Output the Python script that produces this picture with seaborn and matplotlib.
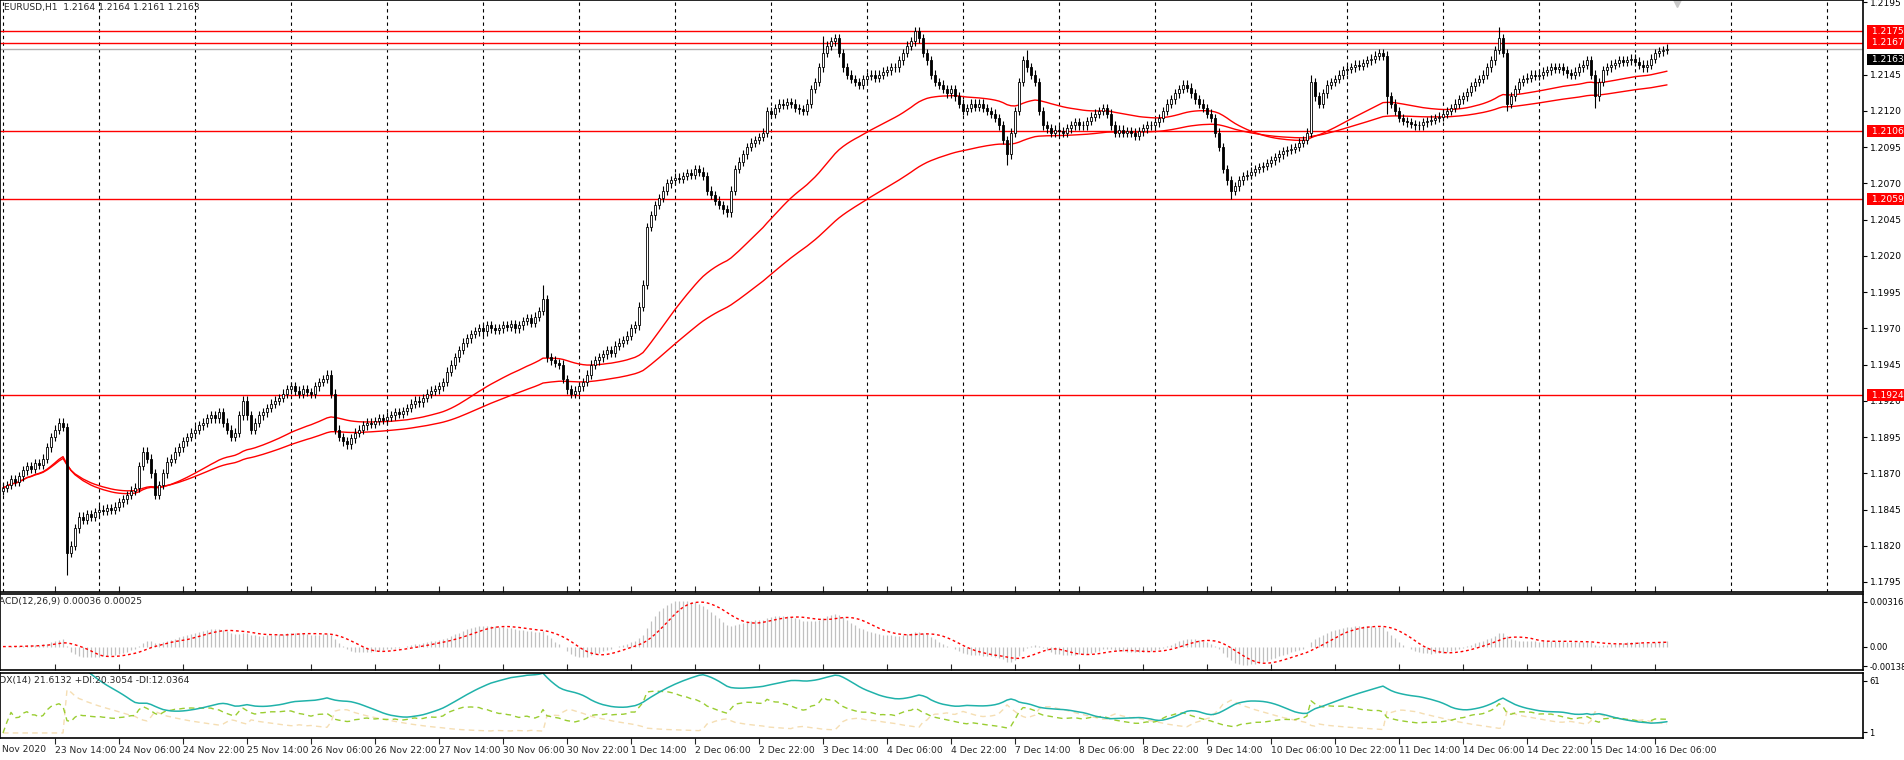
import numpy as np
import pandas as pd
import matplotlib
matplotlib.use("Agg")
import matplotlib.pyplot as plt
import seaborn as sns

# ---- data: hourly closes in pips above 1.1800 ----
closes_pips = [
 60,62,66,64,68,72,75,73,77,76,
 80,88,95,100,105,102,15,20,32,40,
 38,42,40,43,45,44,46,45,47,50,
 52,55,58,60,75,85,80,70,55,62,
 70,78,80,85,88,92,95,98,100,103,
 105,108,110,108,112,105,100,95,98,110,
 120,110,100,105,110,112,115,118,120,122,
 125,128,130,127,125,128,126,125,130,133,
 135,138,125,100,95,92,90,94,98,100,
 103,105,104,106,108,107,109,110,112,111,
 113,115,118,120,119,122,125,127,128,130,
 133,140,145,150,155,160,163,166,168,170,
 168,172,170,169,170,172,171,173,170,172,
 175,177,174,178,182,190,150,148,146,145,
 135,128,125,127,130,133,138,145,148,150,
 152,155,153,158,160,162,165,170,172,185,
 200,240,248,255,260,265,270,272,274,273,
 275,277,276,280,278,275,265,262,258,255,
 252,250,265,280,285,290,295,298,300,302,
 305,320,318,322,325,324,326,325,322,321,
 320,325,335,340,350,360,365,368,370,360,
 350,345,342,340,338,342,344,345,343,345,
 347,348,350,350,355,360,365,368,375,370,
 360,355,345,340,338,335,332,335,330,325,
 320,322,325,323,325,322,320,318,315,310,
 300,290,305,320,340,355,350,345,340,320,
 310,308,305,307,306,305,308,310,312,310,
 310,313,316,318,320,322,318,310,305,307,
 305,306,305,303,306,308,310,310,312,315,
 320,325,328,332,335,338,336,332,328,325,
 322,318,315,305,295,280,272,265,268,272,
 275,276,278,280,281,282,284,286,288,290,
 292,293,294,295,298,300,305,340,330,325,
 332,338,340,342,345,348,349,350,352,351,
 353,355,356,358,360,358,330,325,320,315,
 313,312,311,310,310,312,313,314,315,316,
 318,320,322,325,328,330,333,337,340,342,
 345,350,355,362,370,360,325,330,335,340,
 342,343,345,344,345,347,348,350,349,350,
 348,346,345,347,350,352,355,345,330,340,
 348,350,352,353,355,354,355,356,354,352,
 350,352,356,360,361,362,363]
first_open_pips = 58
wick_pips = 3
extreme_lows = {16: 0, 142: 122, 251: 283, 307: 259, 346: 318, 376: 320, 398: 322}
extreme_highs = {135: 200, 205: 372, 228: 376, 256: 362, 327: 345, 374: 378}

tick_labels = ["23 Nov 14:00","24 Nov 06:00","24 Nov 22:00","25 Nov 14:00","26 Nov 06:00",
 "26 Nov 22:00","27 Nov 14:00","30 Nov 06:00","30 Nov 22:00","1 Dec 14:00","2 Dec 06:00",
 "2 Dec 22:00","3 Dec 14:00","4 Dec 06:00","4 Dec 22:00","7 Dec 14:00","8 Dec 06:00",
 "8 Dec 22:00","9 Dec 14:00","10 Dec 06:00","10 Dec 22:00","11 Dec 14:00","14 Dec 06:00",
 "14 Dec 22:00","15 Dec 14:00","16 Dec 06:00"]
first_tick_bar = 13
bars_per_tick = 16
levels = [1.2175, 1.2167, 1.2106, 1.2059, 1.1924]
bid = 1.2163
price_ticks = [1.2195,1.2145,1.2120,1.2095,1.2070,1.2045,1.2020,1.1995,1.1970,1.1945,
               1.1920,1.1895,1.1870,1.1845,1.1820,1.1795]
title = "EURUSD,H1  1.2164 1.2164 1.2161 1.2163"

# ---- build OHLC ----
c = 1.18 + np.array(closes_pips) / 10000.0
o = np.concatenate([[1.18 + first_open_pips / 10000.0], c[:-1]])
h = np.maximum(o, c) + wick_pips / 10000.0
l = np.minimum(o, c) - wick_pips / 10000.0
for k, v in extreme_lows.items():
    l[k] = min(l[k], 1.18 + v / 10000.0)
for k, v in extreme_highs.items():
    h[k] = max(h[k], 1.18 + v / 10000.0)
n = len(c)
x = np.arange(n)
df = pd.DataFrame({"x": x, "o": o, "h": h, "l": l, "c": c})
cs = df["c"]
df["ma_fast"] = cs.ewm(span=50, adjust=True).mean()
df["ma_slow"] = cs.ewm(span=100, adjust=True).mean()
macd = cs.ewm(span=12, adjust=True).mean() - cs.ewm(span=26, adjust=True).mean()
df["macd"] = macd
df["signal"] = macd.rolling(9, min_periods=1).mean()
# ADX (Wilder smoothing)
prev_c = cs.shift(1).fillna(cs.iloc[0])
tr = np.maximum(df["h"] - df["l"], np.maximum((df["h"] - prev_c).abs(), (df["l"] - prev_c).abs()))
up = df["h"].diff().fillna(0)
dn = (-df["l"].diff()).fillna(0)
pdm = pd.Series(np.where((up > dn) & (up > 0), up, 0.0))
mdm = pd.Series(np.where((dn > up) & (dn > 0), dn, 0.0))
atr = tr.ewm(alpha=1/14, adjust=True).mean()
pdi = 100 * pdm.ewm(alpha=1/14, adjust=True).mean() / atr
mdi = 100 * mdm.ewm(alpha=1/14, adjust=True).mean() / atr
dx = 100 * (pdi - mdi).abs() / (pdi + mdi).replace(0, np.nan)
dx.iloc[:3] = np.nan
df["adx"] = dx.bfill().ewm(alpha=1/14, adjust=True).mean()
df["pdi"] = pdi
df["mdi"] = mdi

# ---- figure ----
sns.set_style("white")
plt.rcParams["font.family"] = ["DejaVu Sans"]
FS = 6.6
W, H = 1904, 760
fig = plt.figure(figsize=(W/100, H/100), dpi=100)
right = 1863
def box(top, bot):
    return [0, 1 - bot/H, right/W, (bot-top)/H]
axp = fig.add_axes(box(0, 592))
axm = fig.add_axes(box(594, 670))
axa = fig.add_axes(box(673, 738))
xl = (-0.75, (right - 3) / 4)
for ax in (axp, axm, axa):
    ax.set_xlim(*xl)
    for s in ax.spines.values():
        s.set_color("black"); s.set_linewidth(1.2)
    ax.yaxis.tick_right()
    ax.tick_params(axis="y", direction="out", length=3, width=0.8, labelsize=FS, pad=2, colors="black")
    ax.set_xticks([])
for ax in (axm, axa):
    ax.tick_params(axis="y", labelsize=6.0, pad=1.5)

# price panel
axp.set_ylim(1.17881, 1.21965)
for gx in np.arange(0, n + 60, 24):
    axp.axvline(gx, color="black", ls=(0, (3, 3)), lw=0.8, zorder=0)
sns.lineplot(data=df, x="x", y="ma_fast", ax=axp, color="red", lw=1, zorder=2)
sns.lineplot(data=df, x="x", y="ma_slow", ax=axp, color="red", lw=1, zorder=2)
axp.vlines(df["x"], df["l"], df["h"], color="black", lw=0.8, zorder=3)
bull = df["c"] >= df["o"]
body = (df["c"] - df["o"]).abs().clip(lower=0.000015)
base = np.minimum(df["o"], df["c"])
axp.bar(df["x"][bull], body[bull], bottom=base[bull], width=0.7, color="white",
        edgecolor="black", lw=0.6, zorder=4)
axp.bar(df["x"][~bull], body[~bull], bottom=base[~bull], width=0.7, color="black",
        edgecolor="black", lw=0.6, zorder=4)
for lv in levels:
    axp.axhline(lv, color="red", lw=1, zorder=1)
axp.axhline(bid, color="#b0b0b0", lw=1, zorder=1)
axp.set_yticks(price_ticks)
axp.set_yticklabels([f"{t:.4f}" for t in price_ticks])
axp.set_xlabel(""); axp.set_ylabel("")
axp.text(0.002, 0.995, title, transform=axp.transAxes, ha="left", va="top", fontsize=FS)
trans = axp.get_yaxis_transform()
axp.text(1.003, bid - 0.00075, f" {bid:.4f} ", transform=trans, ha="left", va="center", fontsize=FS,
         color="white", bbox=dict(boxstyle="square,pad=0.15", fc="black", ec="none"), zorder=9,
         clip_on=False)
for lv in levels:
    axp.text(1.003, lv, f" {lv:.4f} ", transform=trans, ha="left", va="center", fontsize=FS,
             color="white", bbox=dict(boxstyle="square,pad=0.15", fc="red", ec="none"), zorder=10,
             clip_on=False)
axp.plot([n + 1.5], [1.21945], marker="v", color="#c8c8c8", ms=6, clip_on=False)

# MACD panel
axm.set_ylim(-0.00165, 0.00371)
axm.vlines(df["x"], 0, df["macd"], color="#c0c0c0", lw=0.9)
sns.lineplot(data=df, x="x", y="signal", ax=axm, color="red", lw=1, ls=(0, (2, 2)))
axm.set_yticks([0.00316, 0.0, -0.00138])
axm.set_yticklabels(["0.00316", "0.00", "-0.00138"])
axm.set_xlabel(""); axm.set_ylabel("")
axm.text(-0.005, 0.96, "MACD(12,26,9) 0.00036 0.00025", transform=axm.transAxes,
         ha="left", va="top", fontsize=FS, clip_on=True)

# ADX panel
axa.set_ylim(-5.9, 70.2)
sns.lineplot(data=df, x="x", y="mdi", ax=axa, color="#F5DEB3", lw=1, ls=(0, (4, 3)))
sns.lineplot(data=df, x="x", y="pdi", ax=axa, color="#9ACD32", lw=1, ls=(0, (4, 3)))
sns.lineplot(data=df, x="x", y="adx", ax=axa, color="#20B2AA", lw=1.1)
axa.set_yticks([61, 1]); axa.set_yticklabels(["61", "1"])
axa.set_xlabel(""); axa.set_ylabel("")
axa.text(-0.004, 0.96, "ADX(14) 21.6132 +DI:20.3054 -DI:12.0364", transform=axa.transAxes,
         ha="left", va="top", fontsize=FS, clip_on=True)

tb = [first_tick_bar + bars_per_tick * i for i in range(len(tick_labels))]
axa.set_xticks(tb)
axa.set_xticklabels(tick_labels, ha="left", fontsize=FS)
axa.tick_params(axis="x", direction="out", length=4, width=0.8, pad=2, bottom=True)
axa.text(0.001, -0.1, "Nov 2020", transform=axa.transAxes, ha="left", va="top", fontsize=FS)
for ax in (axp, axm):
    ax.set_xticks(tb)
    ax.tick_params(axis="x", direction="in", length=4, width=0.8, labelbottom=False, bottom=True)

fig.savefig("out.png", dpi=100, facecolor="white")
